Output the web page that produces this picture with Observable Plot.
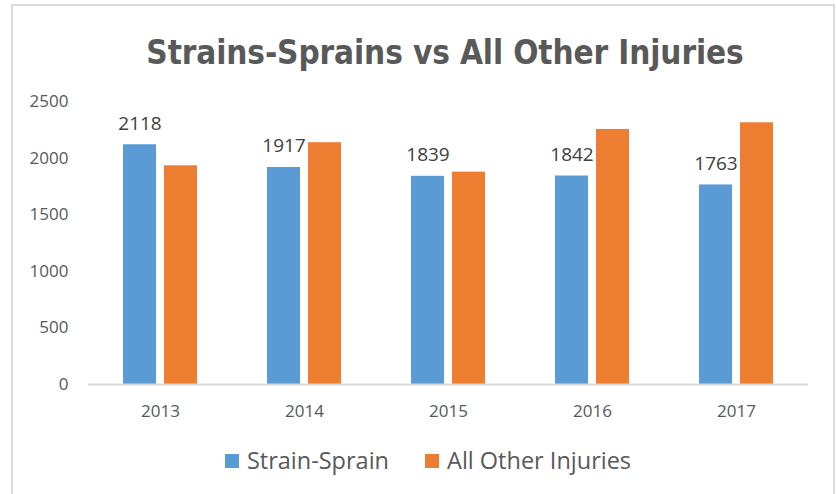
<!DOCTYPE html>
<html>
<head>
<meta charset="utf-8">
<script src="https://cdn.jsdelivr.net/npm/d3@7"></script>
<script src="https://cdn.jsdelivr.net/npm/@observablehq/plot@0.6"></script>
<style>
  html, body { margin: 0; padding: 0; background: #fff; width: 836px; height: 494px; overflow: hidden; }
  #frame { position: absolute; left: 11px; top: 4px; width: 820px; height: 520px;
           border-left: 2px solid #d9d9d9; border-top: 2px solid #d9d9d9; border-right: 2px solid #d9d9d9; }
  #title { position: absolute; left: 45px; width: 800px; top: 33px; text-align: center;
           font-family: "Liberation Sans Narrow", "DejaVu Sans Condensed", "Open Sans", sans-serif;
           font-weight: bold; font-size: 33px; letter-spacing: -0.1px; color: #595959; white-space: nowrap; }
  #chart { position: absolute; left: 0; top: 0; }
  #legend { position: absolute; top: 444px; left: 0; width: 856px; text-align: center;
            font-family: "Open Sans", sans-serif; font-size: 23.5px; color: #595959; white-space: nowrap; }
  #legend span.item { display: inline-block; margin: 0 18px; }
  #legend span.sw { display: inline-block; width: 14px; height: 14px; margin-right: 8px; vertical-align: 1px; }
</style>
</head>
<body>
<div id="frame"></div>
<div id="title">Strains-Sprains vs All Other Injuries</div>
<div id="chart"></div>
<div id="legend"></div>
<script>
const years = ["2013", "2014", "2015", "2016", "2017"];
const seriesNames = ["Strain-Sprain", "All Other Injuries"];
const strainSprain = [2118, 1917, 1839, 1842, 1763];
const allOther = [1932, 2136, 1876, 2253, 2312];
const colors = ["#5b9bd5", "#ed7d31"];
const yTicks = [0, 500, 1000, 1500, 2000, 2500];

const rows = [];
years.forEach((yr, i) => {
  rows.push({year: yr, series: seriesNames[0], value: strainSprain[i]});
  rows.push({year: yr, series: seriesNames[1], value: allOther[i]});
});
const labelRows = rows.filter(d => d.series === seriesNames[0]);

const font = "'Open Sans', sans-serif";
const chart = Plot.plot({
  width: 836,
  height: 430,
  marginLeft: 88,
  marginRight: 28,
  marginTop: 101,
  marginBottom: 46,
  style: {fontFamily: font, fontSize: "17px", color: "#595959", background: "transparent"},
  fx: {domain: years, padding: 0, label: null, axis: "bottom", tickSize: 0, tickPadding: 20},
  x: {domain: seriesNames, paddingInner: 0.207, paddingOuter: 0.834, axis: null},
  y: {domain: [0, 2500], ticks: yTicks, tickFormat: d => String(d), label: null, tickSize: 0, tickPadding: 20},
  color: {domain: seriesNames, range: colors},
  marks: [
    Plot.barY(rows, {fx: "year", x: "series", y: "value", fill: "series"}),
    Plot.text(labelRows, {fx: "year", x: "series", y: "value", text: d => String(d.value),
      lineAnchor: "bottom", dy: -15, fill: "#404040", fontSize: 19}),
    Plot.ruleY([0], {stroke: "#d9d9d9", strokeWidth: 2})
  ]
});
document.getElementById("chart").appendChild(chart);

const legend = document.getElementById("legend");
seriesNames.forEach((name, i) => {
  const item = document.createElement("span");
  item.className = "item";
  const sw = document.createElement("span");
  sw.className = "sw";
  sw.style.background = colors[i];
  item.appendChild(sw);
  item.appendChild(document.createTextNode(name));
  legend.appendChild(item);
});
</script>
</body>
</html>
